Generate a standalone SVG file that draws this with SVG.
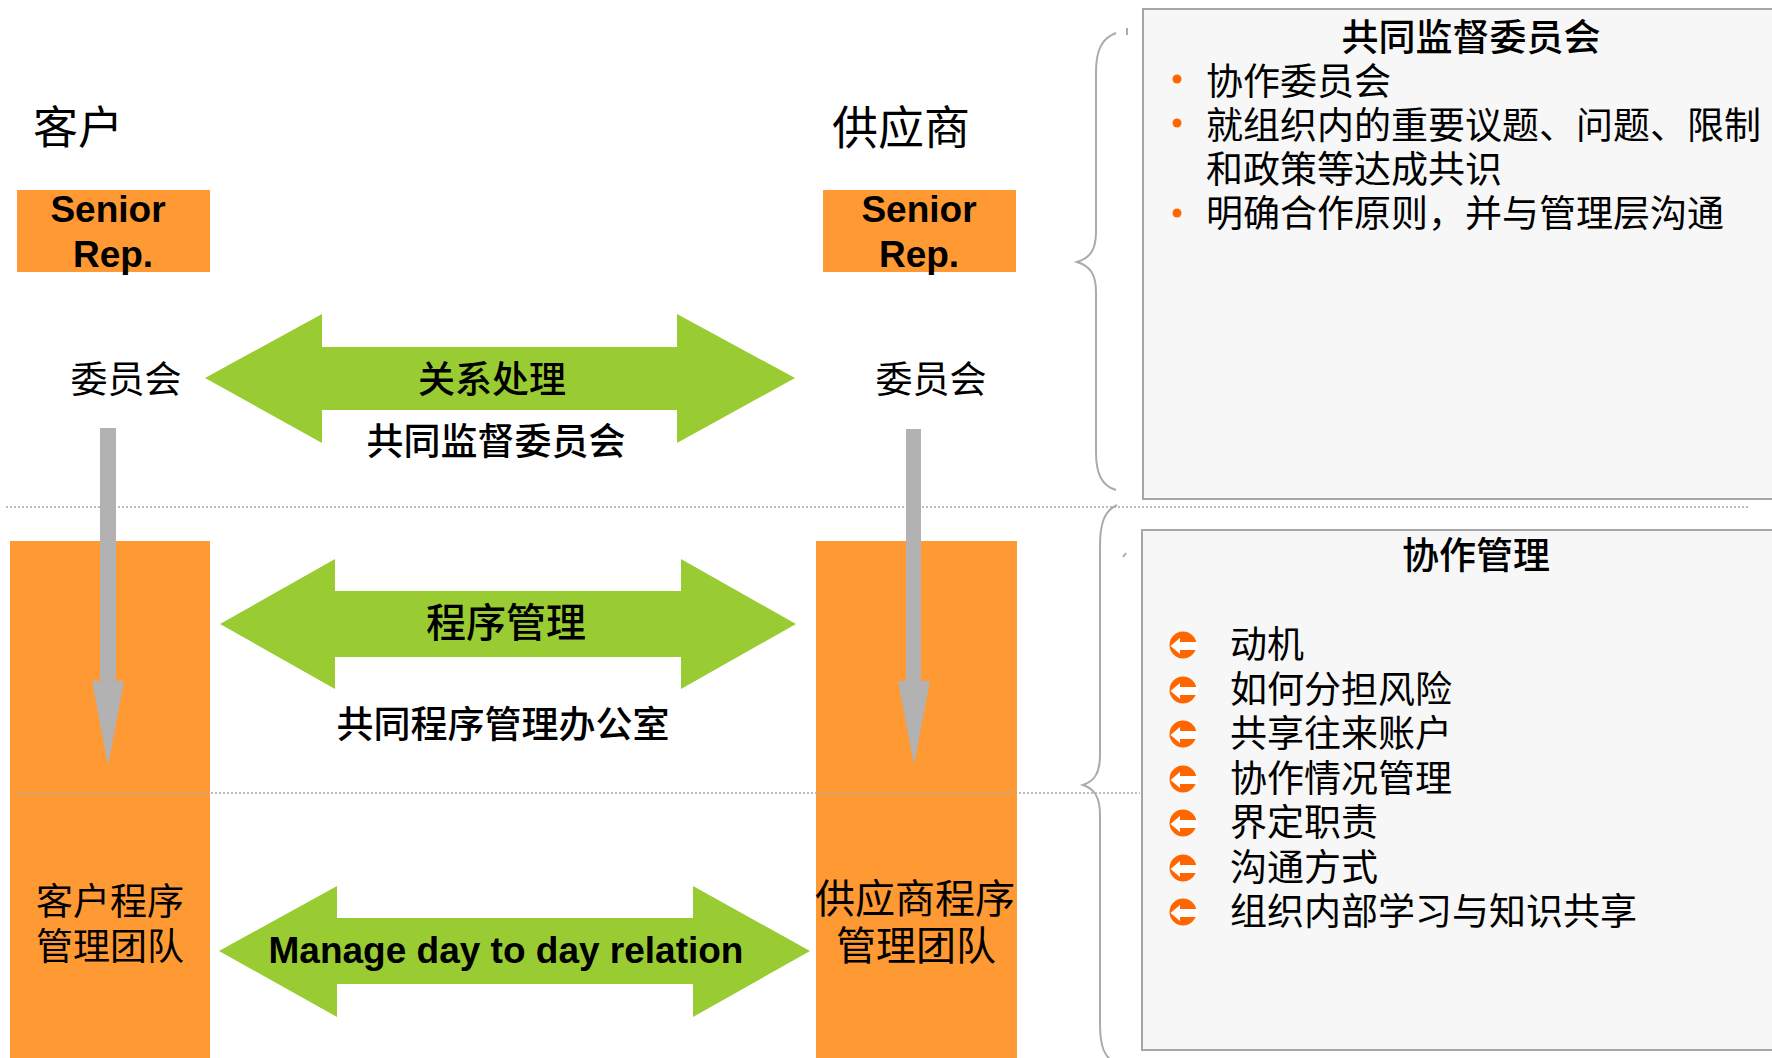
<svg xmlns="http://www.w3.org/2000/svg" xmlns:xlink="http://www.w3.org/1999/xlink" width="1772" height="1058" viewBox="0 0 1772 1058">
  <style>
    .cjk { font-family: "Noto Sans CJK SC", "Noto Sans", sans-serif; fill: #000; }
    .hei { font-family: "Noto Sans CJK SC", "Noto Sans", sans-serif; font-weight: 500; fill: #000; }
    .lat { font-family: "Liberation Sans", Arial, sans-serif; font-weight: bold; fill: #000; }
    .mid { text-anchor: middle; }
    .orange { fill: #FF9933; }
    .green { fill: #99CC33; }
    .gray { fill: #B2B2B2; }
    .dots { stroke: #A8A8A8; stroke-width: 1.5; stroke-dasharray: 2 2; fill: none; }
    .brace { stroke: #ABABAB; stroke-width: 2; fill: none; }
    .panel { fill: #F7F7F7; stroke: #A6A6A6; stroke-width: 2; }
    .dot { fill: #FF6600; }
  </style>
  <defs>
    <g id="ico">
      <circle cx="0" cy="0" r="13.5" fill="#FF6600"/>
      <polygon points="-12.5,1 -3,-7 -3,-3 15,-3 15,5 -3,5 -3,9" fill="#FFFFFF"/>
    </g>
  </defs>
  <rect x="0" y="0" width="1772" height="1058" fill="#FFFFFF"/>

  <!-- dotted separators -->
  <g id="separators">
    <line class="dots" x1="6" y1="507" x2="1750" y2="507"/>
  </g>

  <!-- customer side -->
  <g id="customer-title">
    <text class="cjk" x="33" y="144" font-size="45">客户</text>
  </g>
  <g id="customer-senior-rep">
    <rect class="orange" x="17" y="190" width="193" height="82"/>
    <text class="lat mid" font-size="37"><tspan x="108" y="222">Senior</tspan><tspan x="113" y="267">Rep.</tspan></text>
  </g>
  <g id="customer-committee">
    <text class="cjk mid" x="126" y="393" font-size="37">委员会</text>
  </g>
  <g id="customer-team">
    <rect class="orange" x="10" y="541" width="200" height="517"/>
    <text class="cjk mid" font-size="37"><tspan x="110" y="915">客户程序</tspan><tspan x="110" y="960">管理团队</tspan></text>
  </g>

  <!-- supplier side -->
  <g id="supplier-title">
    <text class="cjk" x="832" y="144" font-size="46">供应商</text>
  </g>
  <g id="supplier-senior-rep">
    <rect class="orange" x="823" y="190" width="193" height="82"/>
    <text class="lat mid" font-size="37"><tspan x="919" y="222">Senior</tspan><tspan x="919" y="267">Rep.</tspan></text>
  </g>
  <g id="supplier-committee">
    <text class="cjk mid" x="931" y="393" font-size="37">委员会</text>
  </g>
  <g id="supplier-team">
    <rect class="orange" x="816" y="541" width="201" height="517"/>
    <text class="cjk mid" font-size="40"><tspan x="915" y="913">供应商程序</tspan><tspan x="916" y="960">管理团队</tspan></text>
  </g>

  <g id="separator-lower">
    <line class="dots" x1="15" y1="793" x2="1140" y2="793"/>
  </g>

  <!-- connectors -->
  <g id="connectors">
    <polygon class="green" points="205,378 322,314 322,347 677,347 677,314 795,378 677,443 677,410 322,410 322,443"/>
    <polygon class="green" points="220,624 335,559 335,591 681,591 681,559 796,624 681,689 681,657 335,657 335,689"/>
    <polygon class="green" points="219,951 337,886 337,918 693,918 693,886 810,951 693,1017 693,984 337,984 337,1017"/>
    <path class="gray" d="M100,428 H116 V681 H124 L108,766 L92,681 H100 Z"/>
    <path class="gray" d="M906,429 H921 V681 H930 L914,765 L898,681 H906 Z"/>
    <text class="hei mid" x="492" y="393" font-size="37">关系处理</text>
    <text class="hei mid" x="506" y="637" font-size="40">程序管理</text>
    <text class="lat mid" x="506" y="963" font-size="37">Manage day to day relation</text>
  </g>

  <g id="joint-committee-label">
    <text class="hei mid" x="496" y="455" font-size="37">共同监督委员会</text>
  </g>
  <g id="joint-office-label">
    <text class="hei mid" x="503" y="738" font-size="37">共同程序管理办公室</text>
  </g>

  <!-- braces -->
  <g id="brace-top">
    <path class="brace" d="M1116,33 C1102,38 1096,50 1096,72 V232 C1096,250 1090,258 1077,262 C1090,266 1096,274 1096,292 V452 C1096,474 1102,486 1116,490"/>
    <line class="brace" x1="1127" y1="28" x2="1127" y2="35"/>
  </g>
  <g id="brace-bottom">
    <path class="brace" d="M1117,505 C1104,511 1100,524 1100,546 V755 C1100,772 1095,781 1083,785 C1095,789 1100,798 1100,815 V1024 C1100,1046 1104,1058 1117,1064"/>
    <line class="brace" x1="1123" y1="557" x2="1126" y2="553"/>
  </g>

  <!-- panel: joint oversight committee -->
  <g id="panel-committee">
    <rect class="panel" x="1143" y="9" width="640" height="490"/>
    <text class="hei mid" x="1471" y="51" font-size="37">共同监督委员会</text>
    <circle class="dot" cx="1177" cy="79" r="4.5"/>
    <circle class="dot" cx="1177" cy="123" r="4.5"/>
    <circle class="dot" cx="1177" cy="213" r="4.5"/>
    <text class="cjk" font-size="37"><tspan x="1206" y="95">协作委员会</tspan><tspan x="1206" y="139">就组织内的重要议题、问题、限制</tspan><tspan x="1206" y="183">和政策等达成共识</tspan><tspan x="1206" y="227">明确合作原则，并与管理层沟通</tspan></text>
  </g>

  <!-- panel: collaboration management -->
  <g id="panel-management">
    <rect class="panel" x="1142" y="530" width="640" height="520"/>
    <text class="hei mid" x="1476" y="569" font-size="37">协作管理</text>
    <use xlink:href="#ico" x="1183" y="645"/>
    <use xlink:href="#ico" x="1183" y="690"/>
    <use xlink:href="#ico" x="1183" y="734"/>
    <use xlink:href="#ico" x="1183" y="779"/>
    <use xlink:href="#ico" x="1183" y="823"/>
    <use xlink:href="#ico" x="1183" y="868"/>
    <use xlink:href="#ico" x="1183" y="912"/>
    <text class="cjk" font-size="37"><tspan x="1230" y="658">动机</tspan><tspan x="1230" y="703">如何分担风险</tspan><tspan x="1230" y="747">共享往来账户</tspan><tspan x="1230" y="792">协作情况管理</tspan><tspan x="1230" y="836">界定职责</tspan><tspan x="1230" y="881">沟通方式</tspan><tspan x="1230" y="925">组织内部学习与知识共享</tspan></text>
  </g>
</svg>
